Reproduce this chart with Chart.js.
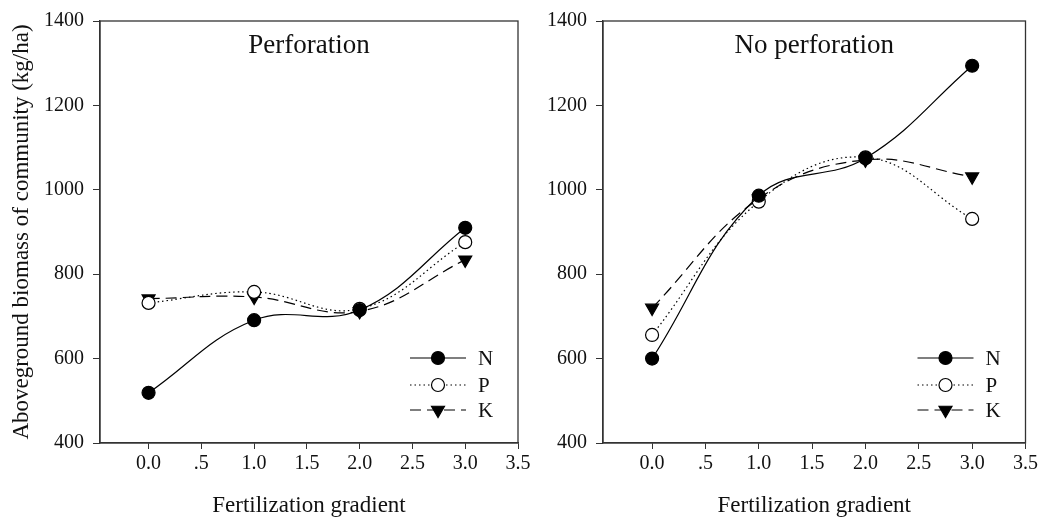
<!DOCTYPE html>
<html lang="en">

<head>
    <meta charset="UTF-8">
    <title>Aboveground biomass - fertilization gradient</title>
    <script src="https://cdn.jsdelivr.net/npm/chart.js"></script>
    <style>
        body { margin: 0; background: #fff; }
        .box { position: absolute; top: 0; height: 517px; }
        #boxLeft { left: 0; width: 560px; }
        #boxRight { left: 500px; width: 541px; }
    </style>
</head>

<body>
    <div class="box" id="boxLeft"><canvas id="chartLeft"></canvas></div>
    <div class="box" id="boxRight"><canvas id="chartRight"></canvas></div>

    <script>
        // data
        var gradient = [0, 1, 2, 3];
        var perfN = [519, 691, 715, 910];
        var perfP = [732, 758, 718, 876];
        var perfK = [742, 746, 712, 834];
        var noPerfN = [600, 986, 1075, 1294];
        var noPerfP = [656, 972, 1077, 931];
        var noPerfK = [720, 979, 1071, 1031];

        var xTicks = [0, 0.5, 1, 1.5, 2, 2.5, 3, 3.5];
        var xTickLabels = ['0.0', '.5', '1.0', '1.5', '2.0', '2.5', '3.0', '3.5'];
        var yTicks = [400, 600, 800, 1000, 1200, 1400];
        var seriesNames = ['N', 'P', 'K'];

        var serif = '"Liberation Serif", "DejaVu Serif", serif';
        Chart.defaults.font.family = serif;
        Chart.defaults.color = '#111';

        // line styles per series
        var styles = [
            { dash: [], point: 'circle', fill: '#000', radius: 6.5, rot: 0 },
            { dash: [1.5, 3], point: 'circle', fill: '#fff', radius: 6.5, rot: 0 },
            { dash: [11, 6], point: 'triangle', fill: '#000', radius: 7.5, rot: 180 }
        ];

        function makeSet(i, values) {
            var s = styles[i];
            return {
                label: seriesNames[i],
                data: gradient.map(function (x, k) { return { x: x, y: values[k] }; }),
                borderColor: '#000',
                borderWidth: 1.2,
                borderDash: s.dash,
                tension: 0.4,
                pointStyle: s.point,
                pointRadius: s.radius,
                pointRotation: s.rot,
                pointBackgroundColor: s.fill,
                pointBorderColor: '#000',
                pointBorderWidth: 1.2,
                fill: false
            };
        }

        // frame, panel title and legend inside the plot
        var panelPlugin = {
            id: 'panel',
            afterDraw: function (chart) {
                var ctx = chart.ctx;
                var a = chart.chartArea;
                ctx.save();
                ctx.strokeStyle = '#333';
                ctx.lineWidth = 1.3;
                ctx.strokeRect(a.left, a.top, a.right - a.left, a.bottom - a.top);

                ctx.fillStyle = '#111';
                ctx.font = '27px ' + serif;
                ctx.textAlign = 'center';
                ctx.textBaseline = 'middle';
                ctx.fillText(chart.options.plugins.panel.text, (a.left + a.right) / 2, a.top + 25);

                var rows = [a.bottom - 85, a.bottom - 58, a.bottom - 33];
                chart.data.datasets.forEach(function (ds, i) {
                    var y = rows[i];
                    var x0 = a.right - 108, x1 = a.right - 52, xm = a.right - 80;
                    ctx.strokeStyle = '#000';
                    ctx.lineWidth = 1.2;
                    ctx.setLineDash(ds.borderDash);
                    ctx.beginPath();
                    ctx.moveTo(x0, y);
                    ctx.lineTo(x1, y);
                    ctx.stroke();
                    ctx.setLineDash([]);
                    ctx.fillStyle = ds.pointBackgroundColor;
                    ctx.strokeStyle = '#000';
                    Chart.helpers.drawPoint(ctx, {
                        pointStyle: ds.pointStyle,
                        rotation: ds.pointRotation,
                        radius: ds.pointRadius,
                        borderWidth: 1.2
                    }, xm, y);
                    ctx.fillStyle = '#111';
                    ctx.font = '21px ' + serif;
                    ctx.textAlign = 'left';
                    ctx.fillText(ds.label, a.right - 40, y + 1);
                });
                ctx.restore();
            }
        };

        function makeChart(id, title, sets, yWidth, padRight, showYTitle) {
            return new Chart(document.getElementById(id), {
                type: 'line',
                data: { datasets: sets },
                plugins: [panelPlugin],
                options: {
                    responsive: true,
                    maintainAspectRatio: false,
                    animation: false,
                    layout: { padding: { top: 19, right: padRight, left: 0, bottom: 0 } },
                    plugins: {
                        legend: { display: false },
                        tooltip: { enabled: false },
                        panel: { text: title }
                    },
                    scales: {
                        x: {
                            type: 'linear',
                            min: -0.46,
                            max: 3.5,
                            afterBuildTicks: function (scale) {
                                scale.ticks = xTicks.map(function (v) { return { value: v }; });
                            },
                            afterFit: function (scale) { scale.height = 74; },
                            ticks: {
                                font: { size: 20 },
                                padding: 3,
                                maxRotation: 0,
                                callback: function (value) {
                                    return xTickLabels[xTicks.indexOf(value)];
                                }
                            },
                            grid: { drawOnChartArea: false, drawTicks: true, tickLength: 6, color: '#333' },
                            border: { color: '#333', width: 1.3 },
                            title: {
                                display: true,
                                text: 'Fertilization gradient',
                                font: { size: 23, lineHeight: 1 },
                                padding: { top: 0, bottom: 0 }
                            }
                        },
                        y: {
                            min: 400,
                            max: 1400,
                            afterBuildTicks: function (scale) {
                                scale.ticks = yTicks.map(function (v) { return { value: v }; });
                            },
                            afterFit: function (scale) { scale.width = yWidth; },
                            ticks: {
                                font: { size: 20 },
                                padding: 9,
                                callback: function (value) { return String(value); }
                            },
                            grid: { drawOnChartArea: false, drawTicks: true, tickLength: 7, color: '#333' },
                            border: { color: '#333', width: 1.3 },
                            title: {
                                display: showYTitle,
                                text: 'Aboveground biomass of community (kg/ha)',
                                font: { size: 23, lineHeight: 1.2 },
                                padding: { top: 8, bottom: 0 }
                            }
                        }
                    }
                }
            });
        }

        makeChart('chartLeft', 'Perforation',
            [makeSet(0, perfN), makeSet(1, perfP), makeSet(2, perfK)], 100, 42, true);
        makeChart('chartRight', 'No perforation',
            [makeSet(0, noPerfN), makeSet(1, noPerfP), makeSet(2, noPerfK)], 103, 14, false);
    </script>
</body>

</html>
